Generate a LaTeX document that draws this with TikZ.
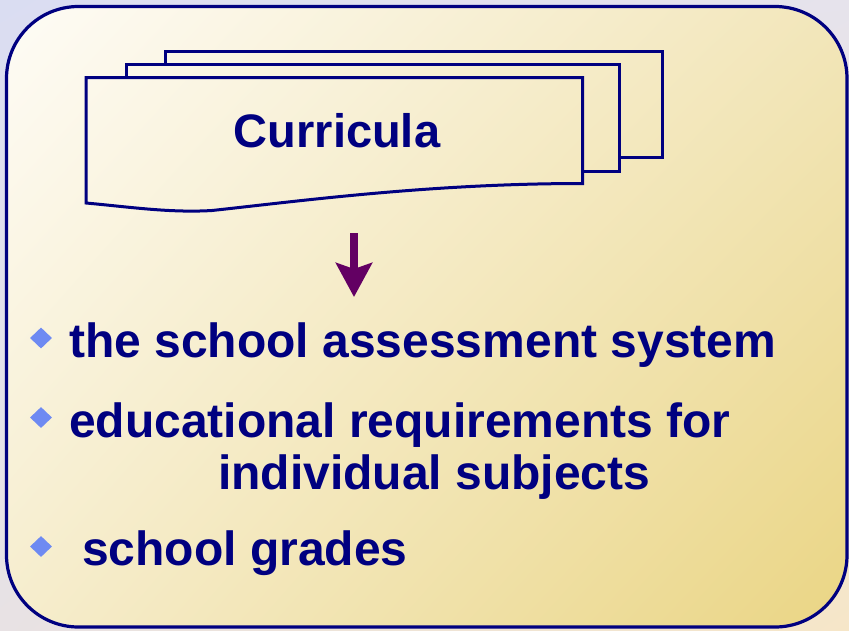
\documentclass[tikz,border=0pt]{standalone}
\usepackage{fontspec}
\setmainfont{Liberation Sans}
\usetikzlibrary{arrows.meta,shapes.geometric,shadings}
\definecolor{navy}{HTML}{000080}
\definecolor{arrowpurple}{HTML}{630063}
\definecolor{bulletblue}{HTML}{6E8AF2}
\definecolor{outUL}{HTML}{DADDF2}
\definecolor{outUR}{HTML}{E6E3EC}
\definecolor{outLL}{HTML}{E8E2E4}
\definecolor{outLR}{HTML}{F6E6C8}
\definecolor{inUL}{HTML}{FEFCF6}
\definecolor{inUR}{HTML}{F2E6BA}
\definecolor{inLL}{HTML}{F6EDCD}
\definecolor{inLR}{HTML}{EAD584}
\tikzset{
  docline/.style={draw=navy, line width=3pt, line join=miter},
  frameline/.style={draw=navy, line width=3.2pt},
  titletext/.style={inner sep=0pt, text=navy, font=\fontsize{47}{52}\selectfont\bfseries},
  bigtext/.style={inner sep=0pt, text=navy, font=\fontsize{48}{52}\selectfont\bfseries},
  bulletmark/.style={diamond, fill=bulletblue, draw=none, inner sep=0pt,
    minimum width=22pt, minimum height=21pt},
  downarrow/.style={draw=arrowpurple, line width=8pt,
    -{Stealth[width=36pt,length=34pt,inset=6pt,fill=arrowpurple]}}
}
\begin{document}
\begin{tikzpicture}[x=1pt,y=-1pt]
\useasboundingbox (0,0) rectangle (849,630);
% outer background
\shade[upper left=outUL, upper right=outUR, lower left=outLL, lower right=outLR]
  (0,0) rectangle (849,630);
% rounded panel
\shade[upper left=inUL, upper right=inUR, lower left=inLL, lower right=inLR,
  rounded corners=72pt] (6.5,6.5) rectangle (847,627);
\draw[frameline, rounded corners=72pt] (6.5,6.5) rectangle (847,627);

% stacked documents (back to front, only visible edges)
\draw[docline] (165.5,64) -- (165.5,51) -- (662,51) -- (662,157) -- (619,157);
\draw[docline] (126,77.7) -- (126,64) -- (619,64) -- (619,171) -- (582.5,171);
\draw[docline] (86,77.7) -- (582.5,77.7) -- (582.5,183.5)
  .. controls (430,183.5) and (300,201) .. (212,210.5)
  .. controls (170,213) and (130,207) .. (86,203) -- cycle;

\node[titletext, anchor=base] (cur) at (337,147) {Curricula};

% arrow
\coordinate (arrS) at (354,233);
\coordinate (arrE) at (354,297);
\draw[downarrow] (arrS) -- (arrE);

% bullets
\node[bulletmark] (b1) at (41,338) {};
\node[bulletmark] (b2) at (41,417.5) {};
\node[bulletmark] (b3) at (41,546.5) {};

% list text
\node[bigtext, anchor=base west] (t1) at (69,357) {the school assessment system};
\node[bigtext, anchor=base west] (t2) at (69,437) {educational requirements for};
\node[bigtext, anchor=base west] (t2b) at (218,489) {individual subjects};
\node[bigtext, anchor=base west] (t3) at (82,565) {school grades};
\end{tikzpicture}
\end{document}
